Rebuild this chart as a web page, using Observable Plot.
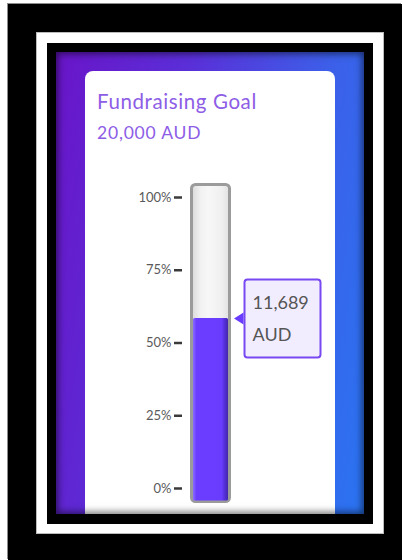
<!DOCTYPE html>
<html>
<head>
<meta charset="utf-8">
<script src="https://cdn.jsdelivr.net/npm/d3@7"></script>
<script src="https://cdn.jsdelivr.net/npm/@observablehq/plot@0.6"></script>
<style>
  html, body { margin: 0; padding: 0; background: #fff; width: 402px; height: 560px; overflow: hidden; font-family: Lato, "Open Sans", sans-serif; }
  #outer { position: absolute; left: 8px; top: 4px; width: 394px; height: 556px; background: #000; box-shadow: -1px -1px 0 #8c8c8c; }
  #white { position: absolute; left: 37px; top: 33px; width: 346px; height: 500px; background: #fff; box-shadow: 0 0 0 1px #bbb; }
  #inner { position: absolute; left: 47px; top: 43px; width: 326px; height: 481px; background: #000; }
  #grad { position: absolute; left: 56px; top: 52px; width: 308px; height: 462px; overflow: hidden;
          background: linear-gradient(100deg, #6915c8 0%, #5a2fd8 35%, #3d5ee8 70%, #2a74f2 100%); }
  #shade { position: absolute; left: 0; top: 0; right: 0; bottom: 0; pointer-events: none;
           box-shadow: inset 0 0 7px 2px rgba(0,0,0,0.55); }
  #card { position: absolute; left: 29px; top: 19px; width: 250px; height: 520px; background: #fff; border-radius: 8px; }
  #title { position: absolute; left: 12px; top: 20px; font-size: 20.5px; line-height: 20px; letter-spacing: 0.6px; color: #8d5de6; white-space: nowrap; }
  #sub { position: absolute; left: 12px; top: 53px; font-size: 17.5px; line-height: 17px; letter-spacing: 0.8px; color: #8d5de6; white-space: nowrap; }
  #chart { position: absolute; left: 0; top: 99px; }
</style>
</head>
<body>
<div id="outer"></div>
<div id="white"></div>
<div id="inner"></div>
<div id="grad">
  <div id="card">
    <div id="title"></div>
    <div id="sub"></div>
    <div id="chart"></div>
  </div>
  <div id="shade"></div>
</div>
<script>
// ---- data ----
const titleText = "Fundraising Goal";
const currency = "AUD";
const goalAmount = 20000;
const raisedAmount = 11689;
const categories = ["Raised"];
const tickValues = [0, 25, 50, 75, 100];
const goalPercent = 100;

const fmt = d3.format(",");
document.getElementById("title").textContent = titleText;
document.getElementById("sub").textContent = fmt(goalAmount) + " " + currency;

const rows = categories.map(c => ({cat: c, pct: raisedAmount / goalAmount * 100, goal: goalPercent}));

// gradients
const defs = () => {
  const d = d3.create("svg:defs");
  const t = d.append("linearGradient").attr("id", "tubeGrad").attr("x1", 0).attr("x2", 1).attr("y1", 0).attr("y2", 0);
  [[0, "#d9d9d9"], [0.25, "#f2f2f2"], [0.45, "#f7f7f7"], [0.8, "#efefef"], [1, "#e0e0e0"]]
    .forEach(([o, c]) => t.append("stop").attr("offset", o).attr("stop-color", c));
  const f = d.append("linearGradient").attr("id", "fillGrad").attr("x1", 0).attr("x2", 1).attr("y1", 0).attr("y2", 0);
  [[0, "#8b6cff"], [0.1, "#6b3dff"], [0.82, "#6a3cfd"], [0.9, "#5530d8"], [1, "#4426ad"]]
    .forEach(([o, c]) => f.append("stop").attr("offset", o).attr("stop-color", c));
  return d.node();
};

// callout shapes (relative to the data point)
const calloutBox = {
  draw(ctx) {
    const x0 = 33.5, x1 = 109.5, y0 = -39, y1 = 39, r = 3;
    ctx.moveTo(x0 + r, y0);
    ctx.lineTo(x1 - r, y0); ctx.arcTo(x1, y0, x1, y0 + r, r);
    ctx.lineTo(x1, y1 - r); ctx.arcTo(x1, y1, x1 - r, y1, r);
    ctx.lineTo(x0 + r, y1); ctx.arcTo(x0, y1, x0, y1 - r, r);
    ctx.lineTo(x0, y0 + r); ctx.arcTo(x0, y0, x0 + r, y0, r);
    ctx.closePath();
  }
};
const calloutPointer = {
  draw(ctx) {
    ctx.moveTo(32.5, -6); ctx.lineTo(23, 0); ctx.lineTo(32.5, 6); ctx.closePath();
  }
};

const chart = Plot.plot({
  width: 250,
  height: 344,
  marginTop: 27,
  marginBottom: 26,
  marginLeft: 105,
  marginRight: 104,
  style: {background: "transparent", overflow: "visible", fontFamily: "Lato, sans-serif"},
  x: {domain: categories, padding: 0, axis: null},
  y: {domain: [0, 100], axis: null},
  marks: [
    defs,
    Plot.barY(rows, {x: "cat", y: "goal", fill: "url(#tubeGrad)", stroke: "#9b9b9b", strokeWidth: 3, rx: 4,
      insetLeft: 1.5, insetRight: 1.5, insetTop: -12.5, insetBottom: -13.5}),
    Plot.barY(rows, {x: "cat", y: "pct", fill: "url(#fillGrad)", rx: 1.5,
      insetLeft: 3, insetRight: 3, insetTop: 0, insetBottom: -12.5}),
    Plot.axisY({ticks: tickValues, tickFormat: d => d + "%", tickSize: 8, tickPadding: 3, dx: -8,
      stroke: "#3a3a3a", strokeWidth: 2.5, fill: "#5a5a5a", fontSize: 13, label: null}),
    Plot.dot(rows, {x: "cat", y: "pct", symbol: calloutBox, fill: "#f1edff", stroke: "#7849f2", strokeWidth: 2, ariaLabel: "callout"}),
    Plot.dot(rows, {x: "cat", y: "pct", symbol: calloutPointer, fill: "#6a3cff", stroke: "none"}),
    Plot.text(rows, {x: "cat", y: "pct", text: () => fmt(raisedAmount), textAnchor: "start", dx: 41.5, dy: -15.6, fontSize: 18, fill: "#555"}),
    Plot.text(rows, {x: "cat", y: "pct", text: () => currency, textAnchor: "start", dx: 41.5, dy: 16.4, fontSize: 18, fill: "#555"})
  ]
});
d3.select(chart).selectAll('[aria-label="callout"]').style("filter", "drop-shadow(0 4px 4px rgba(0,0,0,0.22))");
document.getElementById("chart").appendChild(chart);
</script>
</body>
</html>
